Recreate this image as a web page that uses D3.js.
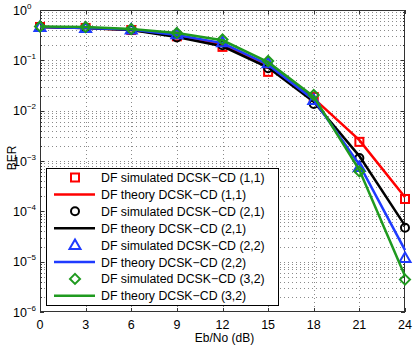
<!DOCTYPE html>
<html>
<head>
<meta charset="utf-8">
<script src="https://cdn.jsdelivr.net/npm/d3@7"></script>
<style>
  body { margin: 0; background: #fff; }
  svg text { font-family: "Liberation Sans", Arial, Helvetica, sans-serif; }
</style>
</head>
<body>
<svg id="chart" width="415" height="346"></svg>
<script>
// Eb/No values (dB)
const ebno = [0, 3, 6, 9, 12, 15, 18, 21, 24];
const xTicks = [0, 3, 6, 9, 12, 15, 18, 21, 24];
const yTickExps = [0, -1, -2, -3, -4, -5, -6];

// simulated BER (markers)
const sim11 = [0.46, 0.44, 0.40, 0.30, 0.185, 0.059, 0.0187, 0.0024, 0.000176];
const sim21 = [0.46, 0.44, 0.40, 0.285, 0.20, 0.070, 0.0136, 0.00115, 0.000047];
const sim22 = [0.46, 0.44, 0.41, 0.33, 0.23, 0.088, 0.0163, 0.00076, 0.0000118];
const sim32 = [0.47, 0.46, 0.42, 0.35, 0.26, 0.097, 0.0205, 0.00062, 0.0000044];

// theory BER (lines)
const th11 = [0.46, 0.44, 0.40, 0.31, 0.20, 0.075, 0.0175, 0.0026, 0.00019];
const th21 = [0.46, 0.44, 0.40, 0.29, 0.19, 0.072, 0.0150, 0.00125, 0.000052];
const th22 = [0.46, 0.44, 0.41, 0.32, 0.22, 0.082, 0.0165, 0.00085, 0.000017];
const th32 = [0.47, 0.46, 0.42, 0.35, 0.25, 0.092, 0.0190, 0.00066, 0.0000052];

const seriesNames = ["(1,1)", "(2,1)", "(2,2)", "(3,2)"];
const colors = ["#ff0000", "#000000", "#1f3bff", "#1f9a1f"];
const markers = ["square", "circle", "triangle", "diamond"];
const simData = [sim11, sim21, sim22, sim32];
const thData = [th11, th21, th22, th32];

const svg = d3.select("#chart");
const L = 40, R = 405, T = 10, B = 312;

const x = d3.scaleLinear().domain([0, 24]).range([L, R]);
const y = d3.scaleLog().domain([1e-6, 1]).range([B, T]);

// minor log positions
const minor = [];
for (let e = -6; e < 0; e++) {
  for (let m = 1; m <= 9; m++) minor.push(m * Math.pow(10, e));
}
minor.push(1);

// grid
const grid = svg.append("g").attr("stroke", "#8a8a8a").attr("stroke-width", 1)
  .attr("stroke-dasharray", "1,3");
grid.selectAll("line.h").data(minor.filter(v => v > 1e-6 && v < 1)).join("line")
  .attr("x1", L).attr("x2", R)
  .attr("y1", d => Math.round(y(d)) + 0.5).attr("y2", d => Math.round(y(d)) + 0.5);
grid.selectAll("line.v").data(xTicks.slice(1, -1)).join("line")
  .attr("y1", T).attr("y2", B)
  .attr("x1", d => Math.round(x(d)) + 0.5).attr("x2", d => Math.round(x(d)) + 0.5);

// ticks (inside, on all four sides)
const tk = svg.append("g").attr("stroke", "#333").attr("stroke-width", 1);
xTicks.forEach(d => {
  const px = Math.round(x(d)) + 0.5;
  tk.append("line").attr("x1", px).attr("x2", px).attr("y1", B).attr("y2", B - 4);
  tk.append("line").attr("x1", px).attr("x2", px).attr("y1", T).attr("y2", T + 4);
});
minor.forEach(v => {
  const py = Math.round(y(v)) + 0.5;
  const major = Math.abs(Math.log10(v) - Math.round(Math.log10(v))) < 1e-9;
  const len = major ? 4 : 2;
  tk.append("line").attr("x1", L).attr("x2", L + len).attr("y1", py).attr("y2", py);
  tk.append("line").attr("x1", R).attr("x2", R - len).attr("y1", py).attr("y2", py);
});

// box
svg.append("rect").attr("x", L + 0.5).attr("y", T + 0.5)
  .attr("width", R - L - 1).attr("height", B - T - 1)
  .attr("fill", "none").attr("stroke", "#333").attr("stroke-width", 1);

// tick labels
svg.append("g").selectAll("text").data(xTicks).join("text")
  .attr("x", d => x(d)).attr("y", B + 17)
  .attr("text-anchor", "middle").attr("font-size", 12.5).text(d => d);

const yl = svg.append("g").selectAll("text").data(yTickExps).join("text")
  .attr("x", 13).attr("y", d => y(Math.pow(10, d)) + 4.5)
  .attr("text-anchor", "start").attr("font-size", 12.5);
yl.append("tspan").text("10");
yl.append("tspan").attr("dy", -6).attr("font-size", 8).text(d => d === 0 ? "0" : "\u2212" + (-d));

// axis labels
svg.append("text").attr("x", (L + R) / 2 + 2).attr("y", 342)
  .attr("text-anchor", "middle").attr("font-size", 12).text("Eb/No (dB)");
svg.append("text").attr("transform", `translate(16,158) rotate(-90)`)
  .attr("text-anchor", "middle").attr("font-size", 12).text("BER");

// marker drawing
function drawMarker(g, type, cx, cy, color) {
  if (type === "square") {
    g.append("rect").attr("x", cx - 4).attr("y", cy - 4).attr("width", 8).attr("height", 8)
      .attr("fill", "none").attr("stroke", color).attr("stroke-width", 2);
  } else if (type === "circle") {
    g.append("circle").attr("cx", cx).attr("cy", cy).attr("r", 4)
      .attr("fill", "none").attr("stroke", color).attr("stroke-width", 2);
  } else if (type === "triangle") {
    g.append("path").attr("d", `M${cx},${cy - 5.5}L${cx + 5.5},${cy + 4}L${cx - 5.5},${cy + 4}Z`)
      .attr("fill", "none").attr("stroke", color).attr("stroke-width", 2);
  } else {
    g.append("path").attr("d", `M${cx},${cy - 5}L${cx + 5},${cy}L${cx},${cy + 5}L${cx - 5},${cy}Z`)
      .attr("fill", "none").attr("stroke", color).attr("stroke-width", 2);
  }
}

const line = d3.line().x((d, i) => x(ebno[i])).y(d => y(d));

const plot = svg.append("g");
for (let s = 0; s < 4; s++) {
  plot.append("path").datum(thData[s]).attr("d", line)
    .attr("fill", "none").attr("stroke", colors[s]).attr("stroke-width", 2.5);
  simData[s].forEach((v, i) => drawMarker(plot, markers[s], x(ebno[i]), y(v), colors[s]));
}

// legend
const lg = svg.append("g");
lg.append("rect").attr("x", 46.5).attr("y", 168.5).attr("width", 232).attr("height", 137)
  .attr("fill", "#fff").attr("stroke", "#000").attr("stroke-width", 1);
const rowH = 16.9, row0 = 177.5;
for (let s = 0; s < 4; s++) {
  const yS = row0 + rowH * (2 * s);
  const yT = row0 + rowH * (2 * s + 1);
  drawMarker(lg, markers[s], 75, yS, colors[s]);
  lg.append("text").attr("x", 101).attr("y", yS + 4.5).attr("font-size", 12.3)
    .text("DF simulated DCSK\u2212CD " + seriesNames[s]);
  lg.append("line").attr("x1", 54).attr("x2", 95).attr("y1", yT).attr("y2", yT)
    .attr("stroke", colors[s]).attr("stroke-width", 2.5);
  lg.append("text").attr("x", 101).attr("y", yT + 4.5).attr("font-size", 12.3)
    .text("DF theory DCSK\u2212CD " + seriesNames[s]);
}
</script>
</body>
</html>
